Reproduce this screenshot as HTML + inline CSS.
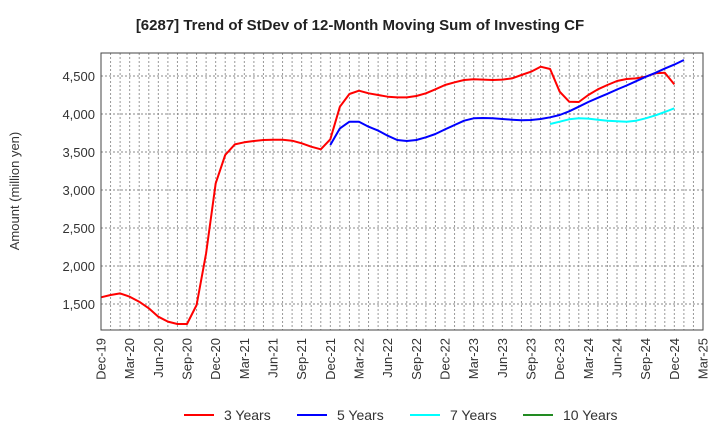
<!DOCTYPE html>
<html><head><meta charset="utf-8"><style>
body{margin:0;background:#fff;}
svg{font-family:"Liberation Sans",Arial,sans-serif;}
</style></head><body>
<svg id="chart" width="720" height="440">
<text x="360" y="30" text-anchor="middle" font-size="15" font-weight="bold" fill="#222">[6287]  Trend of StDev of 12-Month Moving Sum of Investing CF</text>
<g id="grid"></g>
<g id="series"></g>
<rect x="101" y="53" width="602" height="277" fill="none" stroke="#444" stroke-width="1"/>
<g id="yticks"></g>
<g id="xticks"></g>
<text transform="translate(19,191) rotate(-90)" text-anchor="middle" font-size="13" fill="#333">Amount (million yen)</text>
<g id="legend"></g>
</svg>
<script>
const yTicks=[1500,2000,2500,3000,3500,4000,4500];
const xLabels=["Dec-19","Mar-20","Jun-20","Sep-20","Dec-20","Mar-21","Jun-21","Sep-21","Dec-21","Mar-22","Jun-22","Sep-22","Dec-22","Mar-23","Jun-23","Sep-23","Dec-23","Mar-24","Jun-24","Sep-24","Dec-24","Mar-25"];
const s3=[1588,1618,1640,1596,1530,1443,1333,1268,1237,1237,1487,2167,3088,3460,3600,3627,3645,3658,3662,3662,3649,3614,3570,3535,3667,4096,4263,4307,4272,4250,4228,4219,4219,4237,4272,4325,4382,4417,4447,4456,4452,4447,4452,4469,4513,4557,4623,4592,4294,4162,4158,4250,4325,4382,4434,4460,4469,4491,4535,4544,4390];
const s5=[3592,3811,3899,3899,3833,3781,3715,3658,3645,3658,3693,3737,3798,3855,3912,3943,3947,3943,3934,3925,3917,3921,3934,3956,3987,4035,4096,4158,4213,4266,4323,4375,4432,4489,4541,4598,4650,4711];
const s5start=24;
const s7=[3868,3899,3930,3943,3939,3925,3912,3904,3899,3912,3943,3982,4026,4075];
const s7start=47;
const NS="http://www.w3.org/2000/svg";
const L=101,R=703,T=53,B=330,nMonths=63;
const xs=i=>L+(R-L)*i/nMonths;
const ys=v=>304-(v-1500)*0.076;
function el(t,a,p){const e=document.createElementNS(NS,t);for(const k in a)e.setAttribute(k,a[k]);p.appendChild(e);return e;}
const grid=document.getElementById('grid');
for(let i=1;i<nMonths;i++){
 const g=el('line',{x1:xs(i),x2:xs(i),y1:T,y2:B,stroke:'#999','stroke-width':1,'stroke-dasharray':'2,2'},grid);
 
 
}
const yt=document.getElementById('yticks');
yTicks.forEach(v=>{
 const g=el('line',{x1:L,x2:R,y1:ys(v),y2:ys(v),stroke:'#888','stroke-width':1,'stroke-dasharray':'2,2'},grid);
 
 
 const t=el('text',{x:L-6,y:ys(v)+5,'text-anchor':'end','font-size':13,fill:'#333'},yt);
 t.textContent=v.toLocaleString('en-US');
 
 
});
const xt=document.getElementById('xticks');
xLabels.forEach((lab,k)=>{
 const x=xs(k*3);
 const t=el('text',{transform:`translate(${x+4.5},${B+8}) rotate(-90)`,'text-anchor':'end','font-size':13,fill:'#333'},xt);
 t.textContent=lab;
 
 
});
const ser=document.getElementById('series');
function line(arr,start,color,name){
 const pts=arr.map((v,i)=>xs(i+start).toFixed(1)+','+ys(v).toFixed(1)).join(' ');
 const p=el('polyline',{points:pts,fill:'none',stroke:color,'stroke-width':2,'stroke-linejoin':'round'},ser);
 
 
}
line(s3,0,'#ff0000','line-3-years');
line(s5,s5start,'#0000ff','line-5-years');
line(s7,s7start,'#00ffff','line-7-years');
const leg=document.getElementById('legend');
[["3 Years","#ff0000",184],["5 Years","#0000ff",297],["7 Years","#00ffff",410],["10 Years","#228b22",523]].forEach(([n,c,x])=>{
 const g=el('g',{},leg);
 
 
 el('line',{x1:x,x2:x+30,y1:415,y2:415,stroke:c,'stroke-width':2},g);
 const t=el('text',{x:x+40,y:420,'font-size':14,fill:'#333'},g);
 t.textContent=n;
});
</script>
</body></html>
